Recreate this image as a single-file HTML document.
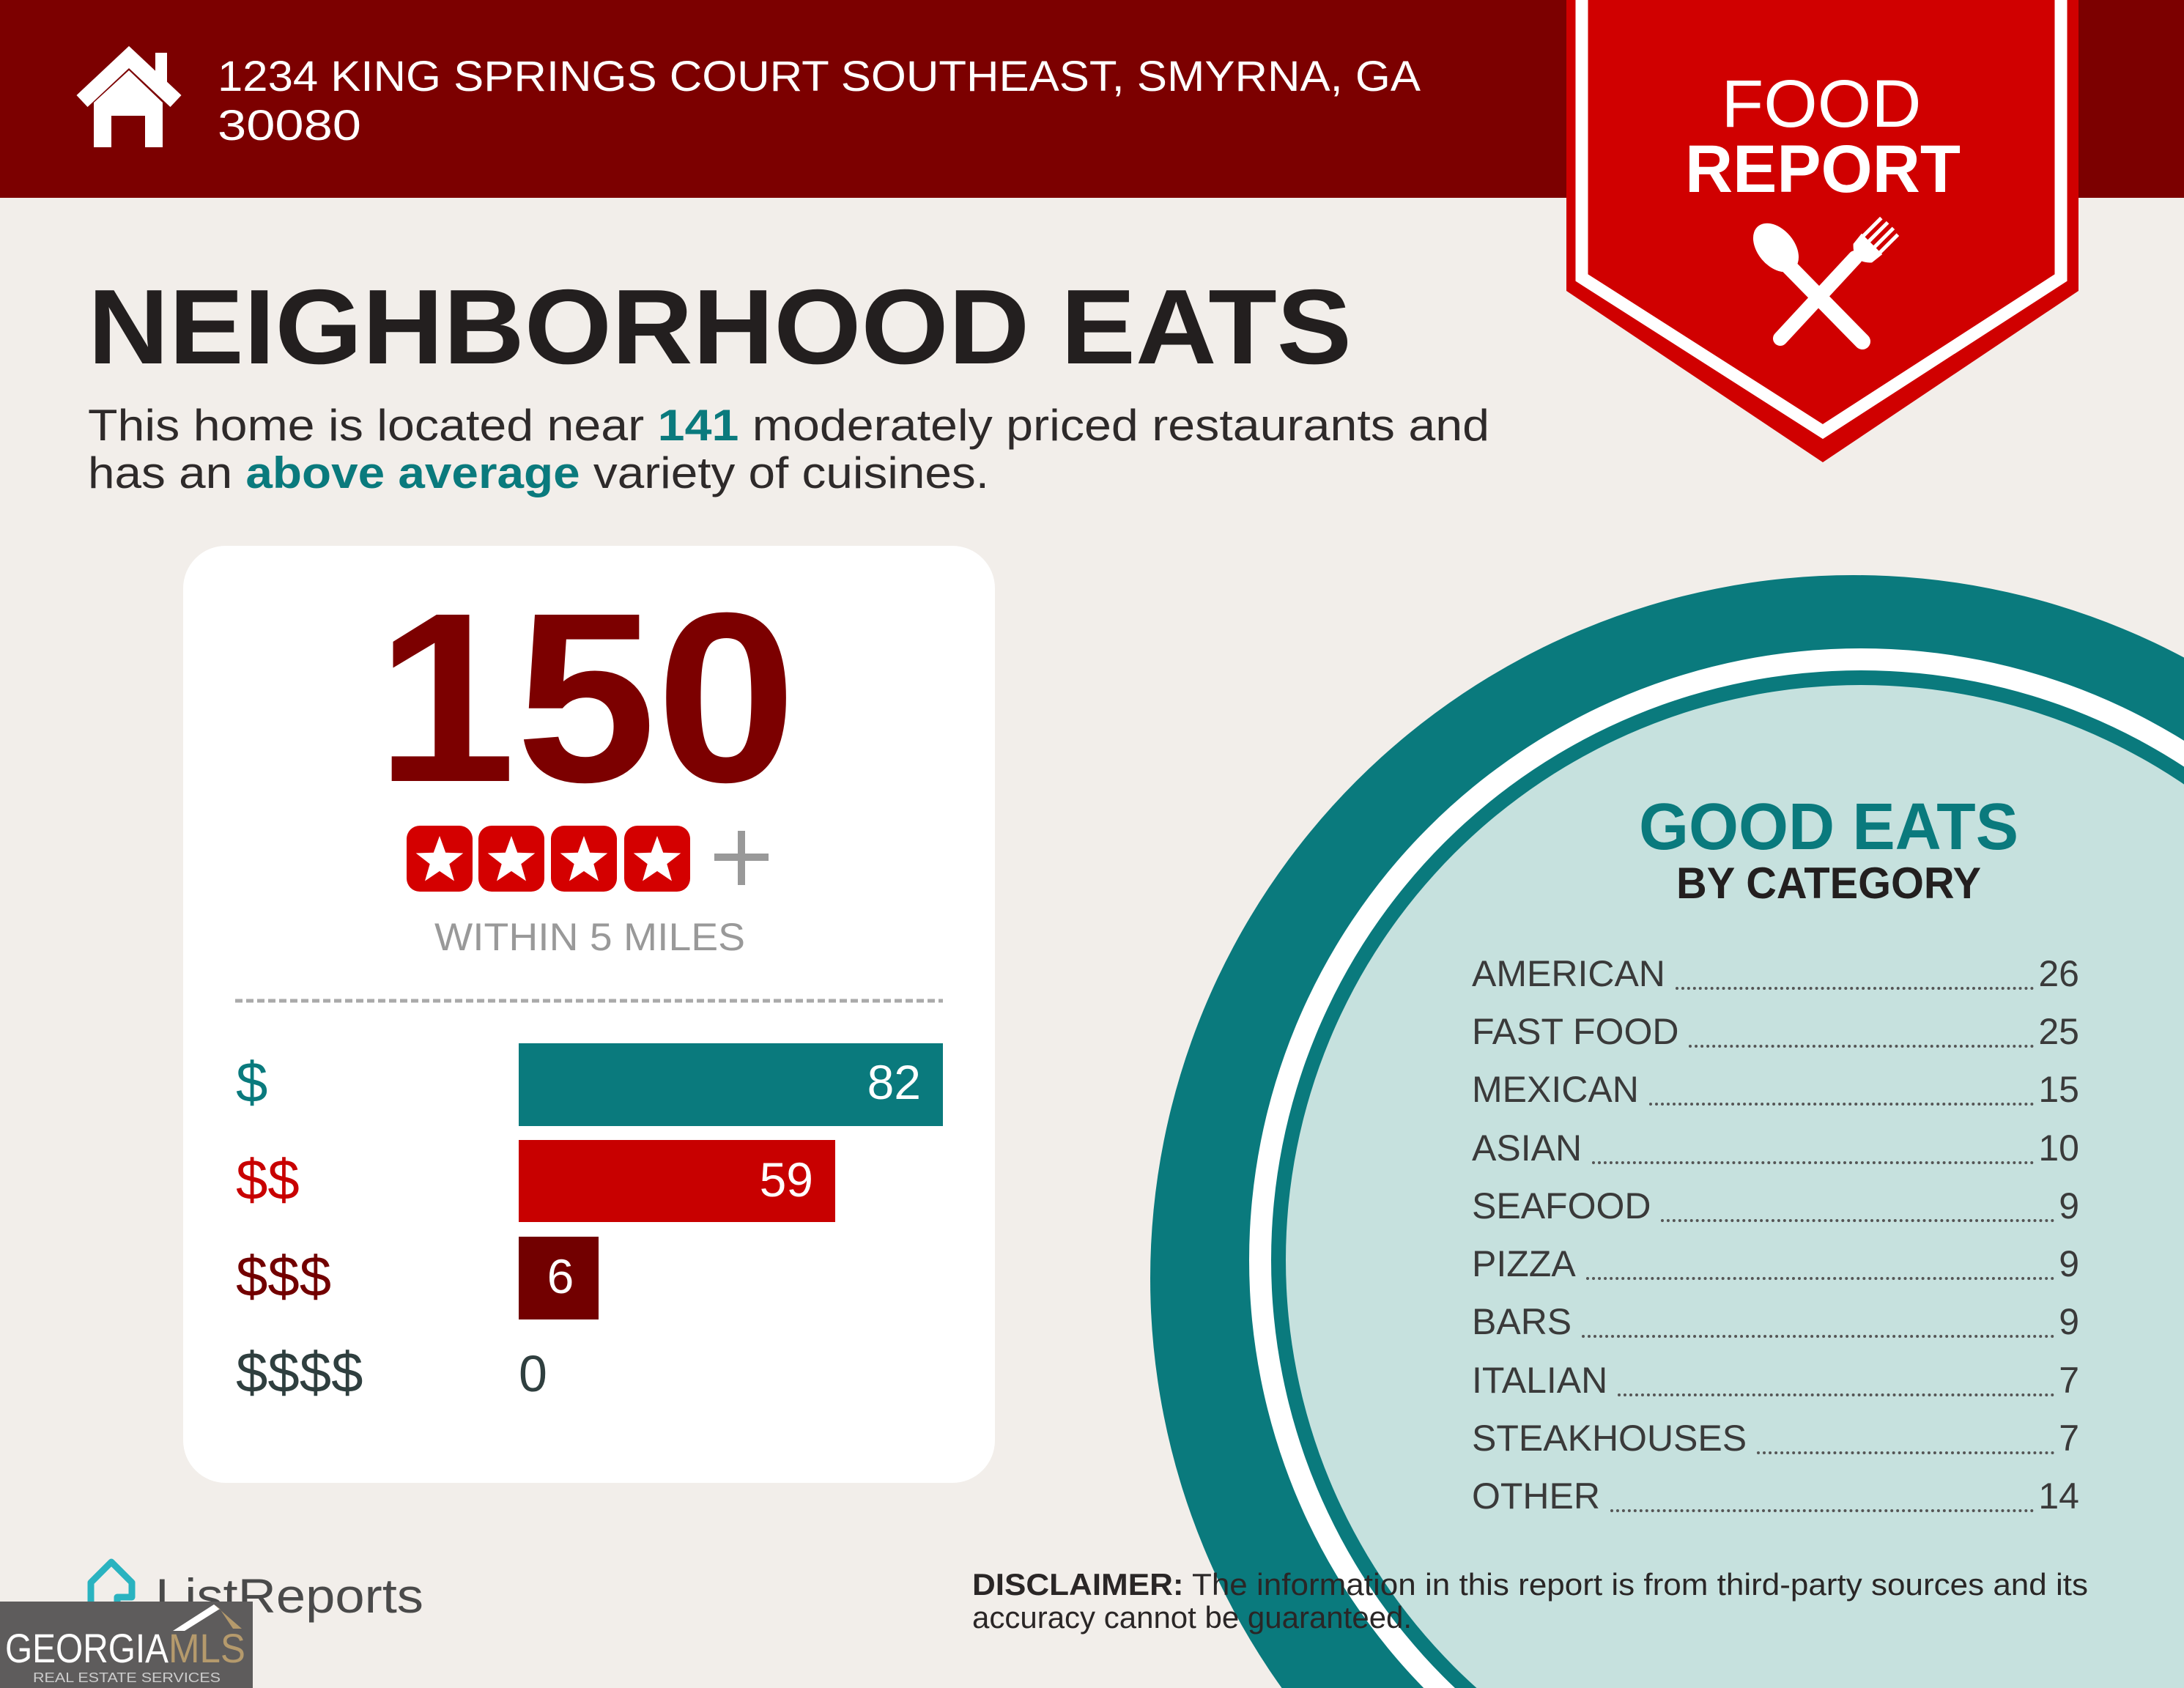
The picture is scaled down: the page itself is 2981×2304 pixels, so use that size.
<!DOCTYPE html>
<html><head><meta charset="utf-8"><style>
html,body{margin:0;padding:0;width:2981px;height:2304px;overflow:hidden;background:#f2eeea;font-family:"Liberation Sans",sans-serif;}
svg{position:absolute;left:0;top:0}
.list{position:absolute;left:2009px;width:829px;top:0;height:0}
.row{position:absolute;left:0;width:829px;height:60px;display:flex;align-items:flex-end;font-size:50px;color:#3a3a3a;line-height:1}
.row .l{flex:1;border-bottom:4px dotted #555;margin:0 6px 3px 14px}
</style></head><body>
<svg width="2981" height="2304" viewBox="0 0 2981 2304" xmlns="http://www.w3.org/2000/svg">
<defs>
<polygon id="st" points="0,-34 8.2,-11.3 32.3,-10.5 13.3,4.3 20,27.5 0,14 -20,27.5 -13.3,4.3 -32.3,-10.5 -8.2,-11.3" fill="#fff"/>
</defs>
<rect x="0" y="0" width="2981" height="270" fill="#7c0000"/>
<polyline points="112,138 176,78 240,138" fill="none" stroke="#fff" stroke-width="22" stroke-linejoin="miter"/>
<rect x="212" y="72" width="16" height="40" fill="#fff"/>
<polygon points="128,140 176,96 222,140 222,201 198,201 198,158 152,158 152,201 128,201" fill="#fff"/>
<text x="297" y="124" font-size="58" fill="#fff" textLength="1642" lengthAdjust="spacingAndGlyphs">1234 KING SPRINGS COURT SOUTHEAST, SMYRNA, GA</text>
<text x="297" y="191" font-size="58" fill="#fff" textLength="196" lengthAdjust="spacingAndGlyphs">30080</text>
<polygon points="2138,0 2837,0 2837,397 2488,631 2138,397" fill="#d00000"/>
<polygon points="2159,-30 2813,-30 2813,379 2488,589 2159,379" fill="none" stroke="#fff" stroke-width="17"/>
<polygon points="2176,-30 2797,-30 2797,368 2488,571 2176,368" fill="#d00000"/>
<text x="2486" y="173" font-size="92" fill="#fff" text-anchor="middle" textLength="273" lengthAdjust="spacingAndGlyphs">FOOD</text>
<text x="2488" y="262" font-size="92" font-weight="bold" fill="#fff" text-anchor="middle" textLength="376" lengthAdjust="spacingAndGlyphs">REPORT</text>
<line x1="2440" y1="362" x2="2542" y2="466" stroke="#fff" stroke-width="22" stroke-linecap="round"/>
<ellipse cx="2424" cy="338" rx="25" ry="38" transform="rotate(-40 2424 338)" fill="#fff"/>
<line x1="2532" y1="352" x2="2430" y2="462" stroke="#fff" stroke-width="20" stroke-linecap="round"/>
<g transform="translate(2548,340) rotate(45)">
<path d="M-20,-10 L20,-10 L18,8 Q0,28 -18,8 Z" fill="#fff"/>
<line x1="-16" y1="-8" x2="-16" y2="-44" stroke="#fff" stroke-width="5"/>
<line x1="-5.5" y1="-8" x2="-5.5" y2="-46" stroke="#fff" stroke-width="5"/>
<line x1="5.5" y1="-8" x2="5.5" y2="-46" stroke="#fff" stroke-width="5"/>
<line x1="16" y1="-8" x2="16" y2="-44" stroke="#fff" stroke-width="5"/>
</g>
<text x="120" y="496" font-size="145" font-weight="bold" fill="#231f1f" textLength="1725" lengthAdjust="spacingAndGlyphs">NEIGHBORHOOD EATS</text>
<text x="120" y="601" font-size="60" fill="#2e2a2a" textLength="1913" lengthAdjust="spacingAndGlyphs">This home is located near <tspan fill="#0a7a7d" font-weight="bold">141</tspan> moderately priced restaurants and</text>
<text x="120" y="666" font-size="60" fill="#2e2a2a" textLength="1230" lengthAdjust="spacingAndGlyphs">has an <tspan fill="#0a7a7d" font-weight="bold">above average</tspan> variety of cuisines.</text>
<rect x="250" y="745" width="1108" height="1279" rx="58" fill="#fff"/>
<text x="800" y="1066" font-size="330" font-weight="bold" fill="#7c0000" text-anchor="middle" textLength="574" lengthAdjust="spacingAndGlyphs">150</text>
<g fill="#d40000">
<rect x="555" y="1127" width="90" height="90" rx="18"/>
<rect x="653" y="1127" width="90" height="90" rx="18"/>
<rect x="752" y="1127" width="90" height="90" rx="18"/>
<rect x="852" y="1127" width="90" height="90" rx="18"/>
</g>
<use href="#st" x="600" y="1175"/><use href="#st" x="698" y="1175"/><use href="#st" x="797" y="1175"/><use href="#st" x="897" y="1175"/>
<rect x="975" y="1165" width="74" height="10" fill="#999"/>
<rect x="1007" y="1134" width="10" height="74" fill="#999"/>
<text x="805" y="1297" font-size="53" fill="#999" text-anchor="middle" textLength="424" lengthAdjust="spacingAndGlyphs">WITHIN 5 MILES</text>
<line x1="321" y1="1366" x2="1287" y2="1366" stroke="#aaa" stroke-width="5" stroke-dasharray="10,5"/>
<rect x="708" y="1424" width="579" height="113" fill="#0a7a7d"/>
<rect x="708" y="1556" width="432" height="112" fill="#c80000"/>
<rect x="708" y="1688" width="109" height="113" fill="#720000"/>
<text x="1257" y="1500" font-size="66" fill="#fff" text-anchor="end">82</text>
<text x="1110" y="1633" font-size="66" fill="#fff" text-anchor="end">59</text>
<text x="765" y="1765" font-size="66" fill="#fff" text-anchor="middle">6</text>
<text x="708" y="1899" font-size="70" fill="#2f3f3f">0</text>
<text x="322" y="1504" font-size="78" fill="#0a7a7d">$</text>
<text x="322" y="1637" font-size="78" fill="#c80000">$$</text>
<text x="322" y="1769" font-size="78" fill="#720000">$$$</text>
<text x="322" y="1900" font-size="78" fill="#2f3f3f">$$$$</text>
<circle cx="2530" cy="1745" r="960" fill="#0a7a7d"/>
<circle cx="2540" cy="1720" r="835" fill="#fff"/>
<circle cx="2540" cy="1720" r="805" fill="#0a7a7d"/>
<circle cx="2540" cy="1720" r="785" fill="#c6e1de"/>
<text x="2496" y="1159" font-size="90" font-weight="bold" fill="#0a7a7d" text-anchor="middle" textLength="518" lengthAdjust="spacingAndGlyphs">GOOD EATS</text>
<text x="2496" y="1226" font-size="60" font-weight="bold" fill="#231f1f" text-anchor="middle" textLength="416" lengthAdjust="spacingAndGlyphs">BY CATEGORY</text>
<text x="1327" y="2177" font-size="42" fill="#2a2626" textLength="1523" lengthAdjust="spacingAndGlyphs"><tspan font-weight="bold">DISCLAIMER:</tspan> The information in this report is from third-party sources and its</text>
<text x="1327" y="2222" font-size="42" fill="#2a2626">accuracy cannot be guaranteed.</text>
<path d="M124,2200 L124,2160 L152,2132 L180,2160 L180,2180 L160,2180 L160,2195" fill="none" stroke="#2ab3c0" stroke-width="9" stroke-linejoin="round"/>
<text x="212" y="2201" font-size="66" fill="#4a4a4a" textLength="366" lengthAdjust="spacingAndGlyphs">ListReports</text>
<rect x="0" y="2186" width="345" height="118" fill="#5e5c5c"/>
<polygon points="236,2226 292,2190 300,2196 252,2226" fill="#fff"/>
<polygon points="292,2190 330,2223 318,2223 300,2196" fill="#b59a6c"/>
<text x="7" y="2269" font-size="56" fill="#fff" textLength="223" lengthAdjust="spacingAndGlyphs">GEORGIA</text>
<text x="230" y="2269" font-size="56" fill="#b59a6c" textLength="105" lengthAdjust="spacingAndGlyphs">MLS</text>
<text x="45" y="2296" font-size="18" fill="#ccc" textLength="256" lengthAdjust="spacingAndGlyphs">REAL ESTATE SERVICES</text>
</svg>
<div class="list">
<div class="row" style="top:1294px"><span>AMERICAN</span><span class="l"></span><span>26</span></div>
<div class="row" style="top:1373px"><span>FAST FOOD</span><span class="l"></span><span>25</span></div>
<div class="row" style="top:1452px"><span>MEXICAN</span><span class="l"></span><span>15</span></div>
<div class="row" style="top:1532px"><span>ASIAN</span><span class="l"></span><span>10</span></div>
<div class="row" style="top:1611px"><span>SEAFOOD</span><span class="l"></span><span>9</span></div>
<div class="row" style="top:1690px"><span>PIZZA</span><span class="l"></span><span>9</span></div>
<div class="row" style="top:1769px"><span>BARS</span><span class="l"></span><span>9</span></div>
<div class="row" style="top:1849px"><span>ITALIAN</span><span class="l"></span><span>7</span></div>
<div class="row" style="top:1928px"><span>STEAKHOUSES</span><span class="l"></span><span>7</span></div>
<div class="row" style="top:2007px"><span>OTHER</span><span class="l"></span><span>14</span></div>
</div>
</body></html>
